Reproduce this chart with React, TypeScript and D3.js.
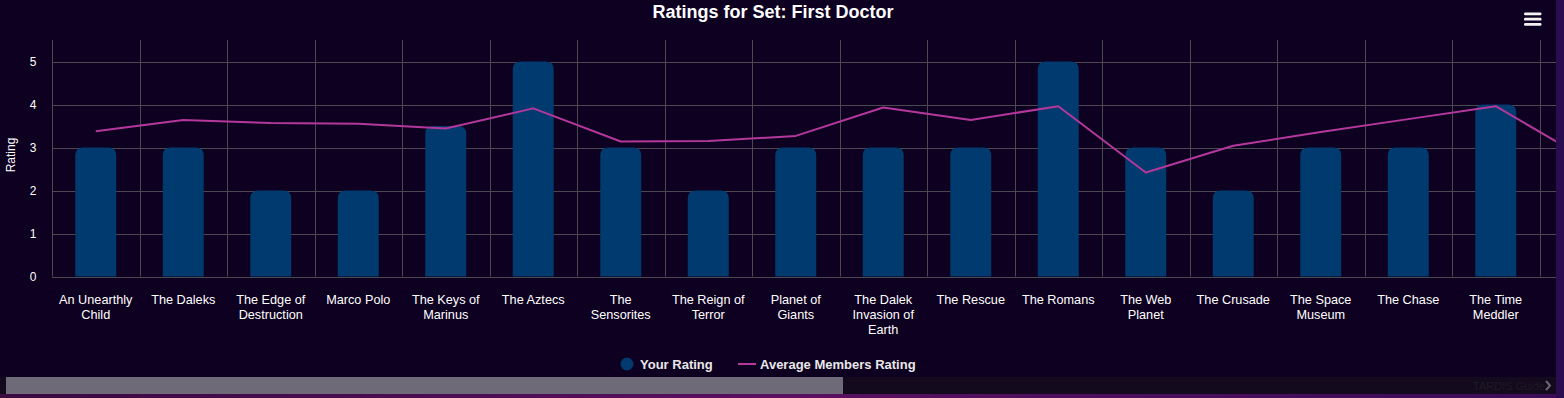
import { useEffect, useRef } from 'react';
import * as d3 from 'd3';

const stories = [
  'An Unearthly Child',
  'The Daleks',
  'The Edge of Destruction',
  'Marco Polo',
  'The Keys of Marinus',
  'The Aztecs',
  'The Sensorites',
  'The Reign of Terror',
  'Planet of Giants',
  'The Dalek Invasion of Earth',
  'The Rescue',
  'The Romans',
  'The Web Planet',
  'The Crusade',
  'The Space Museum',
  'The Chase',
  'The Time Meddler',
  'Galaxy 4',
];
const yourRating: (number | null)[] = [3, 3, 2, 2, 3.5, 5, 3, 2, 3, 3, 3, 5, 3, 2, 3, 3, 4, null];
const avgRating = [3.38, 3.64, 3.57, 3.55, 3.44, 3.91, 3.14, 3.15, 3.27, 3.93, 3.64, 3.96, 2.42, 3.04, 3.36, 3.66, 3.96, 2.77];
const yTicks = [0, 1, 2, 3, 4, 5];

const W = 1564;
const H = 398;
const FONT = '"Liberation Sans", Arial, sans-serif';

const App = (): JSX.Element => {
  const svgRef = useRef<SVGSVGElement>(null);

  useEffect(() => {
    document.body.style.margin = '0';
    if (svgRef.current) svgRef.current.innerHTML = '';

    // the chart is wider than its scroll viewport; only the part left of viewRight shows
    const viewRight = 1556;
    const marginLeft = 52;
    const bandW = 87.5;
    const plotTop = 40;

    const x = d3
      .scaleBand<string>()
      .domain(stories)
      .range([marginLeft, marginLeft + bandW * stories.length])
      .paddingInner(0)
      .paddingOuter(0);

    const y = d3.scaleLinear().domain([0, 5]).range([276.5, 61.5]);

    const svg = d3.select(svgRef.current).attr('width', W).attr('height', H).attr('viewBox', [0, 0, W, H]);

    // page background bits
    const defs = svg.append('defs');
    const grad = defs.append('linearGradient').attr('id', 'pagebg').attr('x1', 0).attr('x2', 1);
    grad.append('stop').attr('offset', 0).attr('stop-color', '#3a0a40');
    grad.append('stop').attr('offset', 0.5).attr('stop-color', '#5a1060');
    grad.append('stop').attr('offset', 1).attr('stop-color', '#3a0c58');
    svg.append('rect').attr('width', W).attr('height', H).attr('fill', 'url(#pagebg)');
    svg.append('rect').attr('x', viewRight).attr('width', W - viewRight).attr('height', H).attr('fill', '#2a0d4e');

    defs
      .append('clipPath')
      .attr('id', 'plotclip')
      .append('rect')
      .attr('x', 0)
      .attr('y', 0)
      .attr('width', viewRight)
      .attr('height', H);

    svg.append('rect').attr('width', viewRight).attr('height', 394).attr('fill', '#0e0020');

    // title
    svg
      .append('text')
      .attr('x', 773)
      .attr('y', 18)
      .attr('text-anchor', 'middle')
      .attr('fill', '#ffffff')
      .attr('font-family', FONT)
      .attr('font-weight', 'bold')
      .attr('font-size', 18)
      .text('Ratings for Set: First Doctor');

    // menu icon
    const menu = svg.append('g').attr('fill', '#f2f2f2');
    [12.5, 17.8, 23].forEach((yy) =>
      menu.append('rect').attr('x', 1524).attr('y', yy).attr('width', 17.5).attr('height', 2.8).attr('rx', 1.2)
    );

    const plot = svg.append('g').attr('clip-path', 'url(#plotclip)');

    // grid
    const gridColor = '#4c4850';
    plot
      .append('g')
      .selectAll('line')
      .data(yTicks)
      .join('line')
      .attr('x1', marginLeft)
      .attr('x2', viewRight)
      .attr('y1', (d) => Math.round(y(d)) + 0.5)
      .attr('y2', (d) => Math.round(y(d)) + 0.5)
      .attr('stroke', gridColor)
      .attr('stroke-width', 1);

    plot
      .append('g')
      .selectAll('line')
      .data(stories)
      .join('line')
      .attr('x1', (d) => Math.round(x(d) as number) + 0.5)
      .attr('x2', (d) => Math.round(x(d) as number) + 0.5)
      .attr('y1', plotTop)
      .attr('y2', y(0))
      .attr('stroke', gridColor)
      .attr('stroke-width', 1);

    // bars with rounded tops
    const barW = 41;
    const r = 8;
    const barPath = (cx: number, top: number, bottom: number) => {
      const x0 = cx - barW / 2;
      const x1 = cx + barW / 2;
      const rr = Math.min(r, (bottom - top) / 2);
      return `M${x0},${bottom}V${top + rr}Q${x0},${top} ${x0 + rr},${top}H${x1 - rr}Q${x1},${top} ${x1},${top + rr}V${bottom}Z`;
    };
    plot
      .append('g')
      .selectAll('path')
      .data(stories.map((s, i) => ({ s, v: yourRating[i] })).filter((d) => d.v !== null))
      .join('path')
      .attr('d', (d) => barPath((x(d.s) as number) + x.bandwidth() / 2, y(d.v as number), y(0)))
      .attr('fill', '#003a6e');

    // average line
    const line = d3
      .line<number>()
      .x((_, i) => (x(stories[i]) as number) + x.bandwidth() / 2)
      .y((d) => y(d));
    plot
      .append('path')
      .attr('d', line(avgRating))
      .attr('fill', 'none')
      .attr('stroke', '#b4389c')
      .attr('stroke-width', 2)
      .attr('stroke-linejoin', 'round');

    // y axis labels
    svg
      .append('g')
      .selectAll('text')
      .data(yTicks)
      .join('text')
      .attr('x', 36.5)
      .attr('y', (d) => y(d) + 4)
      .attr('text-anchor', 'end')
      .attr('fill', '#ffffff')
      .attr('font-family', FONT)
      .attr('font-size', 12)
      .text((d) => d);

    svg
      .append('text')
      .attr('transform', 'translate(14.5,155) rotate(-90)')
      .attr('text-anchor', 'middle')
      .attr('fill', '#ffffff')
      .attr('font-family', FONT)
      .attr('font-size', 12)
      .text('Rating');

    // x labels with wrapping (labels scrolled out of view are skipped)
    const maxW = 80;
    const xl = plot.append('g');
    stories.forEach((s) => {
      const cx = (x(s) as number) + x.bandwidth() / 2;
      if (cx + x.bandwidth() / 2 > viewRight) return;
      const t = xl
        .append('text')
        .attr('text-anchor', 'middle')
        .attr('fill', '#ffffff')
        .attr('font-family', FONT)
        .attr('font-size', 12.7);
      const words = s.split(' ');
      let lineWords: string[] = [];
      let lineNo = 0;
      let tspan = t.append('tspan').attr('x', cx).attr('y', 304);
      words.forEach((w) => {
        lineWords.push(w);
        tspan.text(lineWords.join(' '));
        if ((tspan.node() as SVGTSpanElement).getComputedTextLength() > maxW && lineWords.length > 1) {
          lineWords.pop();
          tspan.text(lineWords.join(' '));
          lineWords = [w];
          lineNo += 1;
          tspan = t
            .append('tspan')
            .attr('x', cx)
            .attr('y', 304 + lineNo * 15)
            .text(w);
        }
      });
    });

    // legend
    const lg = svg.append('g').attr('font-family', FONT).attr('font-weight', 'bold').attr('font-size', 13);
    lg.append('circle').attr('cx', 627).attr('cy', 364).attr('r', 6.5).attr('fill', '#003a6e');
    lg.append('text').attr('x', 640).attr('y', 368.5).attr('fill', '#e8e8e8').text('Your Rating');
    lg.append('line')
      .attr('x1', 738)
      .attr('x2', 756)
      .attr('y1', 364)
      .attr('y2', 364)
      .attr('stroke', '#b4389c')
      .attr('stroke-width', 2);
    lg.append('text').attr('x', 760).attr('y', 368.5).attr('fill', '#e8e8e8').text('Average Members Rating');

    // scrollbar
    svg.append('rect').attr('x', 0).attr('y', 377).attr('width', viewRight).attr('height', 17).attr('fill', '#130b1d');
    svg.append('rect').attr('x', 6).attr('y', 377).attr('width', 837).attr('height', 17).attr('fill', '#6e6a78');
    svg
      .append('text')
      .attr('x', 1545)
      .attr('y', 389.5)
      .attr('text-anchor', 'end')
      .attr('fill', '#1e1a24')
      .attr('font-family', FONT)
      .attr('font-size', 11)
      .text('TARDIS Guide');
    svg
      .append('path')
      .attr('d', 'M1546,381L1550,385.5L1546,390')
      .attr('fill', 'none')
      .attr('stroke', '#6a6670')
      .attr('stroke-width', 2);
  }, []);

  return <svg ref={svgRef} style={{ display: 'block' }} />;
};

export default App;
